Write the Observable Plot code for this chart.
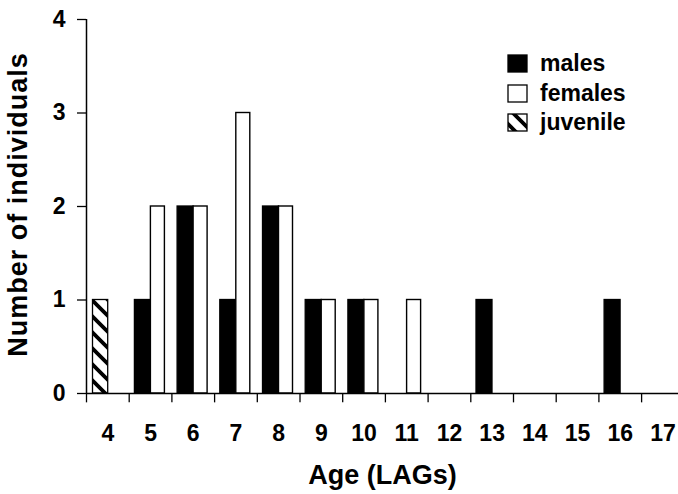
<!DOCTYPE html>
<html>
<head>
<meta charset="utf-8">
<script src="https://cdn.jsdelivr.net/npm/d3@7"></script>
<script src="https://cdn.jsdelivr.net/npm/@observablehq/plot@0.6"></script>
<style>
  html, body { margin: 0; padding: 0; background: #fff; overflow: hidden; }
  svg { font-family: "Liberation Sans", Arial, sans-serif; }
</style>
</head>
<body>
<div id="chart"></div>
<script>
// ---- data ----
const ages = [4, 5, 6, 7, 8, 9, 10, 11, 12, 13, 14, 15, 16, 17];
const males = [0, 1, 2, 1, 2, 1, 1, 0, 0, 1, 0, 0, 1, 0];
const females = [0, 2, 2, 3, 2, 1, 1, 1, 0, 0, 0, 0, 0, 0];
const juveniles = [1, 0, 0, 0, 0, 0, 0, 0, 0, 0, 0, 0, 0, 0];
const yTicks = [0, 1, 2, 3, 4];
const seriesNames = ["males", "females", "juvenile"];
const xTitle = "Age (LAGs)";
const yTitle = "Number of individuals";

const rows = [];
ages.forEach((a, i) => {
  if (males[i] > 0) rows.push({age: a, group: "males", count: males[i]});
  if (females[i] > 0) rows.push({age: a, group: "females", count: females[i]});
  if (juveniles[i] > 0) rows.push({age: a, group: "juvenile", count: juveniles[i]});
});

// ---- layout ----
const W = 678, H = 494;
const x0 = 86, x1 = 683.8, yTop = 19, yBot = 393;
const bw = (x1 - x0) / ages.length;

const plot = Plot.plot({
  width: W,
  height: H,
  marginLeft: x0,
  marginRight: 0,
  marginTop: yTop,
  marginBottom: H - yBot,
  style: {fontFamily: "Liberation Sans, Arial, sans-serif", background: "#fff", color: "#000"},
  x: {type: "band", domain: ages, range: [x0, x1], paddingInner: 0, paddingOuter: 0, round: false, axis: null},
  y: {domain: [0, 4], range: [yBot, yTop], axis: null},
  marks: [
    // bars
    Plot.barY(rows.filter(d => d.group === "males"), {
      x: "age", y: "count", fill: "#000", stroke: "#000", strokeWidth: 1.3,
      insetLeft: 5.7, insetRight: 21
    }),
    Plot.barY(rows.filter(d => d.group === "juvenile"), {
      x: "age", y: "count", fill: "url(#hatch)", stroke: "#000", strokeWidth: 1.3,
      insetLeft: 6.5, insetRight: 21
    }),
    Plot.barY(rows.filter(d => d.group === "females"), {
      x: "age", y: "count", fill: "#fff", stroke: "#000", strokeWidth: 1.4,
      insetLeft: 21.7, insetRight: 7
    }),
    // axis lines
    Plot.ruleY([0], {stroke: "#000", strokeWidth: 1.5}),
    Plot.ruleX([ages[0]], {y1: 0, y2: 4, dx: -bw / 2, stroke: "#000", strokeWidth: 1.5}),
    // x boundary ticks
    Plot.ruleX(ages, {x: d => d, y1: 0, y2: -0.1, dx: -bw / 2, stroke: "#000", strokeWidth: 1.3}),
    // x tick labels
    Plot.axisX(ages, {tickSize: 0, tickPadding: 31, fontSize: 23, fontWeight: "bold", anchor: "bottom", label: null, tickFormat: d => String(d)}),
    // y axis ticks + labels
    Plot.axisY(yTicks, {tickSize: 9, tickPadding: 12, fontSize: 23, fontWeight: "bold", anchor: "left", label: null, tickFormat: d => String(d), stroke: "#000", strokeWidth: 1.3}),
    // axis titles
    Plot.text([xTitle], {frameAnchor: "bottom", textAnchor: "middle", dy: 90, fontSize: 27, fontWeight: "bold", text: d => d}),
    Plot.text([yTitle], {frameAnchor: "left", textAnchor: "middle", rotate: -90, dx: -68, dy: -2, fontSize: 27, fontWeight: "bold", text: d => d, className: "ytitle"})
  ]
});

document.getElementById("chart").appendChild(plot);

const svg = d3.select(plot);
svg.selectAll(".ytitle text").attr("letter-spacing", 1);

// hatch pattern + legend
const defs = svg.insert("defs", ":first-child");
const P = 16;
const pat = defs.append("pattern")
  .attr("id", "hatch").attr("patternUnits", "userSpaceOnUse")
  .attr("width", P).attr("height", P);
pat.append("rect").attr("width", P).attr("height", P).attr("fill", "#fff");
pat.append("path")
  .attr("d", `M-4,-4 L${P + 4},${P + 4} M-4,${P - 4} L4,${P + 4} M${P - 4},-4 L${P + 4},4`)
  .attr("stroke", "#000").attr("stroke-width", 3.8);

const legend = svg.append("g").attr("class", "legend").attr("text-anchor", "start");
const fills = ["#000", "#fff", "url(#hatch)"];
const tops = [55, 85, 114];
seriesNames.forEach((name, i) => {
  legend.append("rect")
    .attr("x", 508).attr("y", tops[i]).attr("width", 19).attr("height", 17)
    .attr("fill", fills[i]).attr("stroke", "#000").attr("stroke-width", 1.3);
  legend.append("text")
    .attr("x", 540).attr("y", tops[i] + 16)
    .attr("font-size", 23).attr("font-weight", "bold")
    .attr("fill", "#000")
    .text(name);
});
</script>
</body>
</html>
